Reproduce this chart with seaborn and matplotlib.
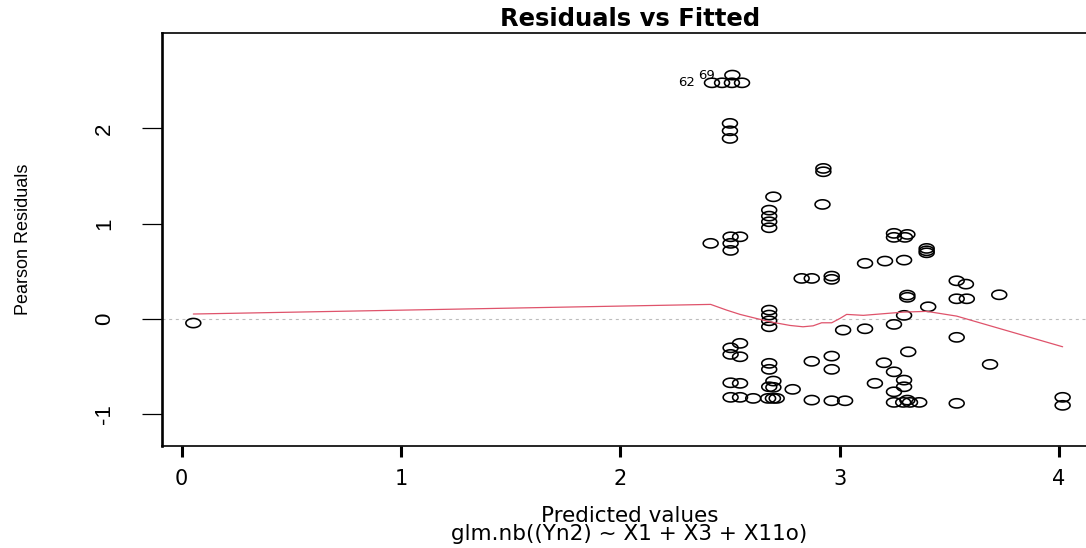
import numpy as np
import pandas as pd
import matplotlib
matplotlib.use("Agg")
import matplotlib.pyplot as plt
from matplotlib.path import Path
import seaborn as sns

# ---------------- data ----------------
fitted = [0.053,
          2.511, 2.418, 2.464, 2.509, 2.555,
          2.500, 2.500, 2.500,
          2.698, 2.922, 2.679, 2.679, 2.679, 2.679,
          2.412, 2.503, 2.546, 2.503, 2.503,
          2.827, 2.873, 2.964, 2.964,
          2.679, 2.679, 2.679, 2.679, 3.016,
          2.503, 2.546, 2.503, 2.546, 2.679, 2.679, 2.873, 2.964, 2.964,
          2.503, 2.546, 2.698, 2.679, 2.698, 2.786,
          2.503, 2.546, 2.606, 2.674, 2.696, 2.713, 2.873, 2.964,
          2.926, 2.926,
          3.248, 3.248, 3.309, 3.298, 3.397, 3.397, 3.397,
          3.116, 3.207, 3.294, 3.534, 3.576, 3.309, 3.309, 3.534, 3.580, 3.728, 3.404, 3.294,
          3.116, 3.248, 3.534, 3.313, 3.202, 3.686, 3.248, 3.161, 3.294, 3.294, 3.248,
          3.025, 3.248, 3.290, 3.309, 3.321, 3.363, 3.534, 4.017, 4.017]

residuals = [-0.045,
             2.559, 2.478, 2.478, 2.478, 2.478,
             2.052, 1.974, 1.894,
             1.281, 1.201, 1.141, 1.078, 1.019, 0.956,
             0.792, 0.861, 0.861, 0.792, 0.718,
             0.424, 0.424, 0.448, 0.414,
             0.091, 0.039, -0.021, -0.084, -0.119,
             -0.305, -0.258, -0.374, -0.399, -0.468, -0.531, -0.447, -0.392, -0.531,
             -0.672, -0.678, -0.654, -0.714, -0.720, -0.741,
             -0.825, -0.825, -0.836, -0.836, -0.836, -0.836, -0.854, -0.861,
             1.579, 1.544,
             0.897, 0.855, 0.886, 0.855, 0.739, 0.714, 0.693,
             0.582, 0.606, 0.616, 0.399, 0.364, 0.249, 0.225, 0.210, 0.210, 0.252, 0.126, 0.036,
             -0.105, -0.059, -0.195, -0.347, -0.462, -0.479, -0.557, -0.678, -0.644, -0.714, -0.767,
             -0.861, -0.878, -0.878, -0.854, -0.878, -0.878, -0.888, -0.825, -0.909]

smooth_x = [0.053, 2.412, 2.485, 2.546, 2.607, 2.683, 2.774, 2.833, 2.879,
            2.918, 2.964, 3.002, 3.032, 3.108, 3.290, 3.397, 3.534, 4.017]
smooth_y = [0.050, 0.151, 0.091, 0.046, 0.011, -0.032, -0.070, -0.084, -0.074,
            -0.042, -0.042, 0.004, 0.046, 0.036, 0.070, 0.078, 0.028, -0.294]

point_labels = ["69", "62"]
label_x = [2.395, 2.300]
label_y = [2.559, 2.478]

x_ticks = [0, 1, 2, 3, 4]
y_ticks = [-1, 0, 1, 2]

title = "Residuals vs Fitted"
x_label = "Predicted values\nglm.nb((Yn2) ~ X1 + X3 + X11o)"
y_label = "Pearson Residuals"

# ---------------- style ----------------
sns.set_style("white")
plt.rcParams["font.family"] = ["DejaVu Sans"]
plt.rcParams["text.color"] = "black"
plt.rcParams["axes.labelcolor"] = "black"
plt.rcParams["xtick.color"] = "black"
plt.rcParams["ytick.color"] = "black"
rot_font = ["Liberation Sans", "DejaVu Sans"]

W, H = 1086, 548
fig = plt.figure(figsize=(W / 100, H / 100), dpi=100)
ax_left, ax_right, ax_top, ax_bottom = 161.7, 1097.5, 33.3, 446.0
ax = fig.add_axes([ax_left / W, (H - ax_bottom) / H,
                   (ax_right - ax_left) / W, (ax_bottom - ax_top) / H])

df = pd.DataFrame({"fitted": fitted, "residuals": residuals})
sm = pd.DataFrame({"x": smooth_x, "y": smooth_y})

# open ellipse marker (points appear horizontally stretched)
t = np.linspace(0, 2 * np.pi, 64)
ellipse = Path(np.column_stack([np.cos(t), 0.62 * np.sin(t)]), closed=True)

ax.axhline(0, color="#BDBDBD", lw=0.8, linestyle=(0, (2.7, 3.3)), zorder=1)

sns.scatterplot(data=df, x="fitted", y="residuals", ax=ax, marker=ellipse,
                s=115, color="black", edgecolor="black", linewidth=1.15, zorder=3)
coll = ax.collections[-1]
coll.set_facecolor("none")
coll.set_edgecolor("black")

sns.lineplot(data=sm, x="x", y="y", ax=ax, sort=False, estimator=None,
             color="#DF536B", linewidth=0.9, zorder=4)

for s, lx, ly in zip(point_labels, label_x, label_y):
    ax.text(lx, ly, s, ha="center", va="center", fontsize=9.5, color="black", zorder=5)

ax.set_xlim(-0.0912, 4.176)
ax.set_ylim(-1.336, 2.998)
ax.set_xticks(x_ticks)
ax.set_yticks(y_ticks)
ax.set_xticklabels([str(v) for v in x_ticks])
ax.set_yticklabels([str(v) for v in y_ticks])

ax.tick_params(axis="x", bottom=True, direction="out", length=7.9, width=2.2,
               pad=8.5, labelsize=15, colors="black")
ax.tick_params(axis="y", left=True, direction="out", length=14.4, width=0.9,
               pad=19, labelsize=16, labelrotation=90, colors="black")
for lbl in ax.get_yticklabels():
    lbl.set_fontfamily(rot_font)
    lbl.set_verticalalignment("center")

for side in ["top", "bottom", "right"]:
    ax.spines[side].set_linewidth(1.2)
    ax.spines[side].set_color("black")
ax.spines["left"].set_linewidth(1.9)
ax.spines["left"].set_color("black")

ax.set_title(title, fontsize=17.5, fontweight="bold", pad=5.3, color="black")
ax.set_xlabel(x_label, fontsize=15.5, linespacing=0.85)
ax.xaxis.set_label_coords(0.5, (ax_bottom - 506) / (ax_bottom - ax_top))
ax.set_ylabel(y_label, fontsize=13, family=rot_font, va="center")
ax.yaxis.set_label_coords((23 - ax_left) / (ax_right - ax_left), 0.5)

fig.savefig("out.png", dpi=100)
